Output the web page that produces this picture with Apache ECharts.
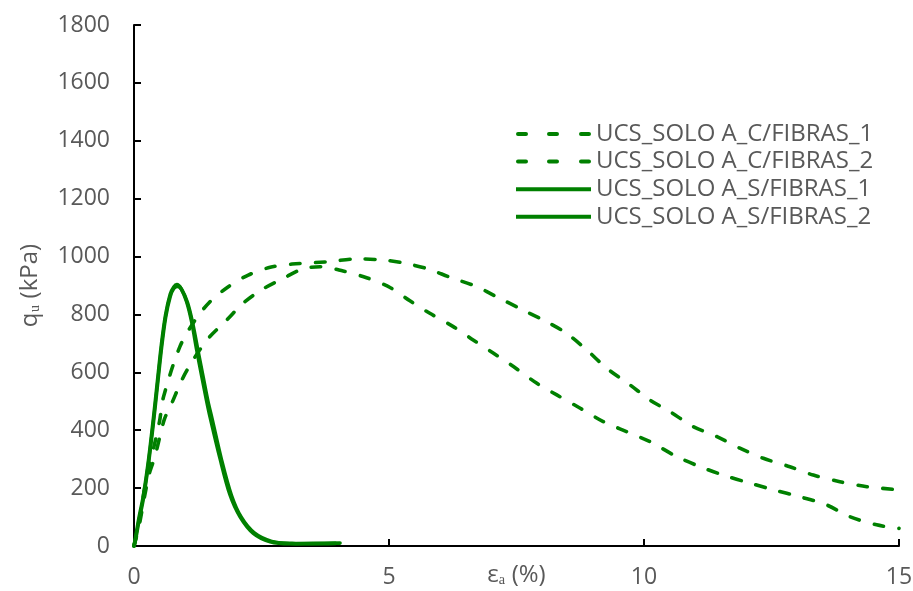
<!DOCTYPE html>
<html>
<head>
<meta charset="utf-8">
<title>UCS - Solo A</title>
<script src="https://cdn.jsdelivr.net/npm/echarts@6/dist/echarts.min.js"></script>
<style>
  html, body { margin: 0; padding: 0; background: #ffffff; }
  #chart { width: 913px; height: 591px; }
</style>
</head>
<body>
<div id="chart"></div>
<script>
// Axial strain (%) and unconfined compressive strength (kPa), one pair of arrays per test
const seriesNames = [
  'UCS_SOLO A_C/FIBRAS_1',
  'UCS_SOLO A_C/FIBRAS_2',
  'UCS_SOLO A_S/FIBRAS_1',
  'UCS_SOLO A_S/FIBRAS_2'
];

// with fibres, specimen 1
const strainC1 = [0, 0.1, 0.2, 0.3, 0.4, 0.5, 0.58, 0.9, 1.2, 1.49, 1.85, 2.24, 2.67, 3.1, 3.8, 4.37,
  4.89, 5.31, 5.77, 6.2, 6.72, 7.11, 7.63, 8.09, 8.48, 8.88, 9.27, 9.73, 10.12, 10.51, 10.97,
  11.43, 11.88, 12.34, 12.86, 13.32, 13.84, 14.37, 15.0];
const stressC1 = [0, 80, 190, 280, 350, 430, 516, 689, 781, 844, 896, 936, 963, 974, 982, 992,
  988, 977, 957, 928, 896, 861, 815, 775, 735, 677, 614, 556, 504, 464, 412,
  378, 338, 303, 274, 245, 222, 205, 194];

// with fibres, specimen 2
const strainC2 = [0, 0.1, 0.2, 0.3, 0.41, 0.51, 0.6, 0.74, 0.94, 1.16, 1.46, 1.82, 2.14, 2.5, 2.93,
  3.32, 3.65, 4.1, 4.56, 5.02, 5.41, 5.8, 6.26, 6.65, 7.05, 7.44, 7.9, 8.29, 8.75, 9.2, 9.66,
  10.12, 10.64, 11.1, 11.55, 12.08, 12.54, 13.06, 13.58, 14.04, 14.56, 15.0];
const stressC2 = [0, 70, 165, 250, 309, 380, 440, 493, 574, 643, 718, 781, 839, 885, 925,
  958, 965, 950, 927, 893, 847, 804, 758, 712, 666, 620, 562, 522, 476, 430, 395,
  360, 309, 274, 245, 217, 194, 170, 142, 101, 73, 61];

// without fibres, specimen 1
const strainS1 = [0, 0.05, 0.1, 0.18, 0.28, 0.38, 0.46, 0.54, 0.62, 0.71, 0.78, 0.84, 0.92, 1.03,
  1.13, 1.23, 1.33, 1.42, 1.49, 1.69, 1.88, 2.08, 2.34, 2.67, 3.06, 3.5, 4.04];
const stressS1 = [0, 50, 100, 170, 290, 440, 570, 700, 800, 870, 895, 903, 890, 845,
  775, 677, 585, 505, 447, 300, 178, 101, 44, 15, 8, 9, 10];

// without fibres, specimen 2
const strainS2 = [0, 0.05, 0.1, 0.18, 0.28, 0.38, 0.46, 0.54, 0.62, 0.71, 0.78, 0.86, 0.94, 1.05,
  1.15, 1.26, 1.36, 1.45, 1.53, 1.72, 1.91, 2.1, 2.36, 2.7, 3.1, 3.5, 3.95];
const stressS2 = [0, 40, 90, 160, 280, 425, 555, 685, 790, 862, 890, 897, 885, 840,
  770, 670, 580, 500, 440, 295, 175, 100, 45, 16, 9, 8, 9];

const xTicks = [0, 5, 10, 15];
const yTicks = [0, 200, 400, 600, 800, 1000, 1200, 1400, 1600, 1800];

const pairs = (xs, ys) => xs.map((x, i) => [x, ys[i]]);

const GREEN = '#008000';
const TEXT = '#595959';
const FONT = 'Open Sans';
const DASH = [9.5, 15.5];
const LINE_W = 3.6;

// legend keys: three rounded dashes, or one solid bar, in a 75 x 4 box
const ICON_DASHED = 'path://M2,0H10A2,2 0 0 1 10,4H2A2,2 0 0 1 2,0Z' +
  'M33,0H41A2,2 0 0 1 41,4H33A2,2 0 0 1 33,0Z' +
  'M65,0H73A2,2 0 0 1 73,4H65A2,2 0 0 1 65,0Z';
const ICON_SOLID = 'path://M0,0H75V4H0Z';

function curve(name, xs, ys, dashed) {
  return {
    name: name,
    type: 'line',
    data: pairs(xs, ys),
    smooth: 0.3,
    symbol: 'none',
    showSymbol: false,
    lineStyle: {
      color: GREEN,
      width: LINE_W,
      type: dashed ? DASH : 'solid',
      cap: 'round',
      join: 'round'
    },
    itemStyle: { color: GREEN }
  };
}

function legendItem(name, dashed) {
  return { name: name, icon: dashed ? ICON_DASHED : ICON_SOLID, itemStyle: { color: GREEN } };
}

const chart = echarts.init(document.getElementById('chart'), null, { renderer: 'canvas' });

chart.setOption({
  backgroundColor: '#ffffff',
  animation: false,
  textStyle: { fontFamily: FONT },
  grid: { left: 134, right: 14, top: 25, bottom: 45, containLabel: false, outerBoundsMode: 'none' },
  legend: {
    data: [
      legendItem(seriesNames[0], true),
      legendItem(seriesNames[1], true),
      legendItem(seriesNames[2], false),
      legendItem(seriesNames[3], false)
    ],
    orient: 'vertical',
    left: 511,
    top: 117,
    itemWidth: 75,
    itemHeight: 4,
    itemGap: 3.6,
    symbolKeepAspect: false,
    textStyle: { color: TEXT, fontSize: 24, fontFamily: FONT, lineHeight: 23 }
  },
  xAxis: {
    type: 'value',
    min: xTicks[0],
    max: xTicks[xTicks.length - 1],
    interval: xTicks[1] - xTicks[0],
    name: 'εₐ (%)',
    nameLocation: 'middle',
    nameGap: 17,
    nameMoveOverlap: false,
    nameTextStyle: { color: TEXT, fontSize: 24, fontFamily: FONT, verticalAlign: 'top' },
    axisLine: { show: true, onZero: false, lineStyle: { color: '#000000', width: 2 } },
    axisTick: { show: true, inside: true, length: 7, lineStyle: { color: '#000000', width: 2 } },
    axisLabel: { color: TEXT, fontSize: 23, fontFamily: FONT, margin: 20, formatter: v => String(v) },
    splitLine: { show: false }
  },
  yAxis: {
    type: 'value',
    min: yTicks[0],
    max: yTicks[yTicks.length - 1],
    interval: yTicks[1] - yTicks[0],
    name: 'qᵤ (kPa)',
    nameLocation: 'middle',
    nameRotate: 90,
    nameGap: 92,
    nameMoveOverlap: false,
    nameTextStyle: { color: TEXT, fontSize: 24, fontFamily: FONT },
    axisLine: { show: true, onZero: false, lineStyle: { color: '#000000', width: 2 } },
    axisTick: { show: true, inside: true, length: 7, lineStyle: { color: '#000000', width: 2 } },
    axisLabel: { color: TEXT, fontSize: 23, fontFamily: FONT, margin: 24, formatter: v => String(v) },
    splitLine: { show: false }
  },
  series: [
    curve(seriesNames[0], strainC1, stressC1, true),
    curve(seriesNames[1], strainC2, stressC2, true),
    curve(seriesNames[2], strainS1, stressS1, false),
    curve(seriesNames[3], strainS2, stressS2, false)
  ]
});
</script>
</body>
</html>
